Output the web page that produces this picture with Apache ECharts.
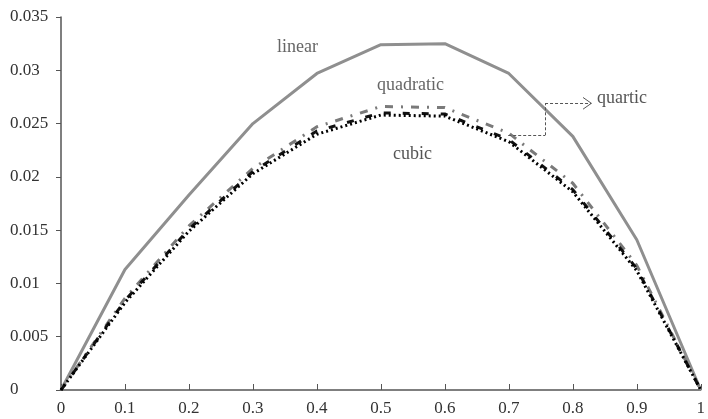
<!DOCTYPE html>
<html>
<head>
<meta charset="utf-8">
<script src="https://cdn.jsdelivr.net/npm/echarts@6/dist/echarts.min.js"></script>
<style>
  html, body { margin: 0; padding: 0; background: #fff; }
  #chart { width: 708px; height: 419px; }
</style>
</head>
<body>
<div id="chart"></div>
<script>
const xs = [0, 0.1, 0.2, 0.3, 0.4, 0.5, 0.6, 0.7, 0.8, 0.9, 1]
const linear = [0, 0.0113, 0.0183, 0.0250, 0.0297, 0.0324, 0.0325, 0.0297, 0.0238, 0.0141, 0]
const quadratic = [0, 0.0086, 0.0154, 0.0208, 0.0247, 0.0266, 0.0265, 0.0241, 0.0194, 0.0117, 0]
const quartic = [0, 0.0084, 0.0151, 0.0205, 0.0243, 0.0260, 0.0259, 0.0235, 0.0188, 0.0114, 0]
const cubic = [0, 0.0082, 0.0149, 0.0203, 0.0240, 0.0258, 0.0257, 0.0233, 0.0186, 0.0112, 0]

const font = 'Liberation Serif'
const labelFont = '18px "Liberation Serif"'
const pairs = arr => xs.map((x, i) => [x, arr[i]])

const chart = echarts.init(document.getElementById('chart'))
chart.setOption({
  animation: false,
  grid: { left: 61, right: 5, top: 17, bottom: 29 },
  xAxis: {
    type: 'value', min: 0, max: 1, interval: 0.1,
    axisLine: { lineStyle: { color: '#555', width: 1.5 } },
    axisTick: { inside: true, length: 6, lineStyle: { color: '#555' } },
    axisLabel: { color: '#333', fontFamily: font, fontSize: 17, margin: 10 },
    splitLine: { show: false }
  },
  yAxis: {
    type: 'value', min: 0, max: 0.035, interval: 0.005,
    axisLine: { show: true, lineStyle: { color: '#555', width: 1.5 } },
    axisTick: { show: true, length: 5, lineStyle: { color: '#555' } },
    axisLabel: { color: '#333', fontFamily: font, fontSize: 17, align: 'left', margin: 51 },
    splitLine: { show: false }
  },
  series: [
    {
      name: 'linear', type: 'line', data: pairs(linear), symbol: 'none',
      lineStyle: { color: '#8f8f8f', width: 3 }
    },
    {
      name: 'quadratic', type: 'line', data: pairs(quadratic), symbol: 'none',
      lineStyle: { color: '#7a7a7a', width: 3, type: [8, 8, 2, 8] }
    },
    {
      name: 'quartic', type: 'line', data: pairs(quartic), symbol: 'none',
      lineStyle: { color: '#111', width: 3, type: [7, 12] },
      // dotted connector to the label, open arrow head drawn as two short strokes
      markLine: {
        silent: true, symbol: 'none', label: { show: false },
        lineStyle: { color: '#555', width: 1, type: [3, 2] },
        data: [
          [{ coord: [0.699, 0.0239] }, { coord: [0.7566, 0.0239] }],
          [{ coord: [0.7566, 0.0239] }, { coord: [0.7566, 0.0269] }],
          [{ coord: [0.7566, 0.0269] }, { coord: [0.829, 0.0269] }],
          [{ coord: [0.816, 0.02745], lineStyle: { type: 'solid' } }, { coord: [0.829, 0.0269] }],
          [{ coord: [0.816, 0.02635], lineStyle: { type: 'solid' } }, { coord: [0.829, 0.0269] }]
        ]
      }
    },
    {
      name: 'cubic', type: 'line', data: pairs(cubic), symbol: 'none',
      lineStyle: { color: '#000', width: 3, type: [2, 3] }
    }
  ],
  graphic: [
    { type: 'text', left: 277, top: 38, style: { text: 'linear', fill: '#666', font: labelFont } },
    { type: 'text', left: 377, top: 76, style: { text: 'quadratic', fill: '#666', font: labelFont } },
    { type: 'text', left: 393, top: 145, style: { text: 'cubic', fill: '#555', font: labelFont } },
    { type: 'text', left: 597, top: 89, style: { text: 'quartic', fill: '#555', font: labelFont } }
  ]
})
</script>
</body>
</html>
